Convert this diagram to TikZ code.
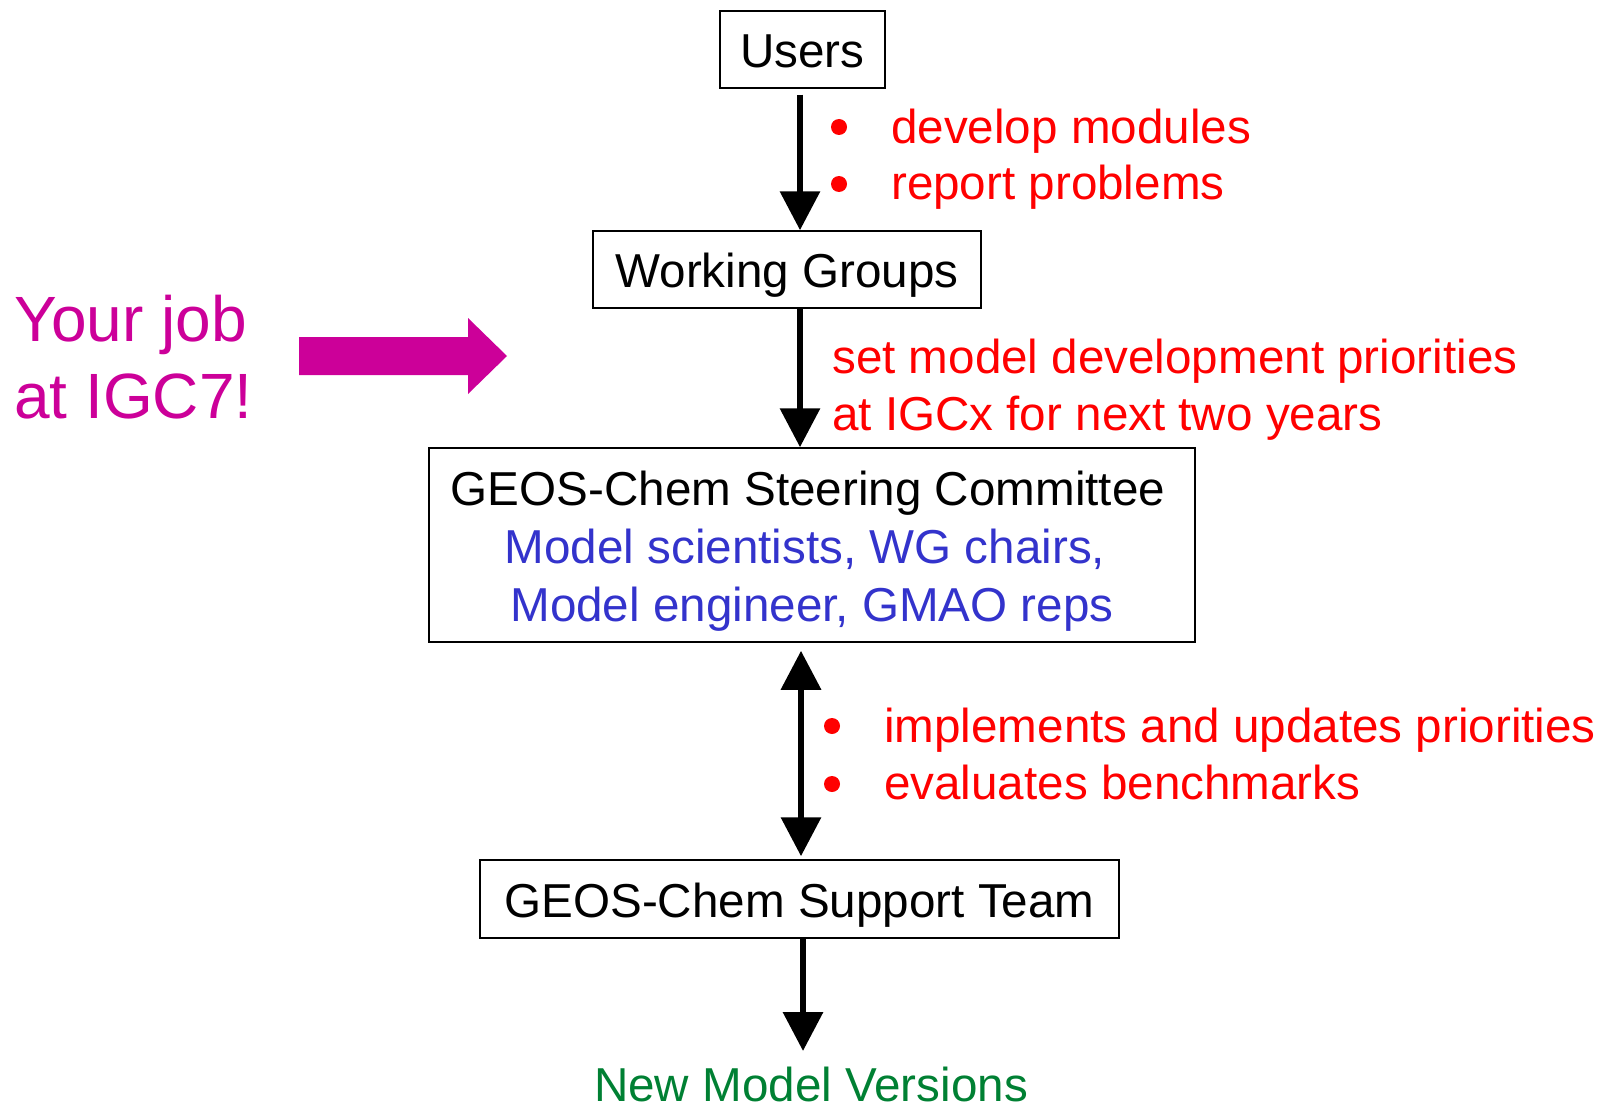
\documentclass[tikz,border=0pt]{standalone}
\usepackage{fontspec}
\setmainfont{Liberation Sans}
\usetikzlibrary{arrows.meta}
\definecolor{gcred}{RGB}{255,0,0}
\definecolor{gcblue}{RGB}{51,51,204}
\definecolor{gcmag}{RGB}{204,0,153}
\definecolor{gcgreen}{RGB}{0,128,51}
\begin{document}
\begin{tikzpicture}[x=1pt,y=-1pt,
  box/.style={draw=black, line width=1.5pt, fill=white, inner sep=0pt, text height=36pt, text depth=0pt, font=\fontsize{47.6}{57}\selectfont},
  txt/.style={inner sep=0pt, font=\fontsize{47.6}{57}\selectfont},
  redtxt/.style={txt, text=gcred, anchor=base west},
  bul/.style={circle, fill=gcred, inner sep=0pt, minimum size=16pt},
  magtxt/.style={inner sep=0pt, anchor=base west, text=gcmag, font=\fontsize{64}{77}\selectfont},
  arr/.style={line width=6.5pt, -{Triangle[length=39pt,width=39pt]}},
  darr/.style={line width=6.5pt, {Triangle[length=39pt,width=39pt]}-{Triangle[length=39pt,width=39pt]}}
]
\useasboundingbox (0,0) rectangle (1604,1113);

% boxes
\node[box, minimum width=165pt, minimum height=77pt] (users) at (802.5,49.5) {Users};
\node[box, minimum width=388pt, minimum height=77pt] (wg) at (787,269.5) {Working Groups};
\node[box, minimum width=766pt, minimum height=194pt] (steer) at (812,545) {};
\node[box, minimum width=639pt, minimum height=78pt] (support) at (799.5,899) {GEOS-Chem Support Team};

% steering committee text
\node[txt, anchor=base] (st1) at (808,505) {GEOS-Chem Steering Committee};
\node[txt, anchor=base, text=gcblue] (st2) at (805,563) {Model scientists, WG chairs,};
\node[txt, anchor=base, text=gcblue] (st3) at (812,621) {Model engineer, GMAO reps};

% red labels
\node[bul] (b1) at (839,127) {};
\node[redtxt] (l1) at (891,143) {develop modules};
\node[bul] (b2) at (839,184) {};
\node[redtxt] (l2) at (891,200) {report problems};
\node[redtxt] (l3) at (832,373) {set model development priorities};
\node[redtxt] (l4) at (832,430) {at IGCx for next two years};
\node[bul] (b3) at (832,726) {};
\node[redtxt] (l5) at (884,742) {implements and updates priorities};
\node[bul] (b4) at (832,784) {};
\node[redtxt] (l6) at (884,799) {evaluates benchmarks};

% your job
\node[magtxt] (yj1) at (14,341) {Your job};
\node[magtxt] (yj2) at (14,418) {at IGC7!};
\fill[gcmag] (299,337) -- (468,337) -- (468,318) -- (507,356) -- (468,394) -- (468,375) -- (299,375) -- cycle;

% output
\node[txt, anchor=base, text=gcgreen] (nmv) at (811,1101) {New Model Versions};

% connectors
\coordinate (ax1) at (800,0);
\coordinate (ax2) at (801,0);
\coordinate (endtip) at (803,1051);
\draw[arr, shorten <=6pt] (users.south -| ax1) -- (wg.north -| ax1);
\draw[arr] (wg.south -| ax1) -- (steer.north -| ax1);
\draw[darr, shorten <=8pt, shorten >=3pt] (steer.south -| ax2) -- (support.north -| ax2);
\draw[arr] (support.south -| endtip) -- (endtip);
\end{tikzpicture}
\end{document}
